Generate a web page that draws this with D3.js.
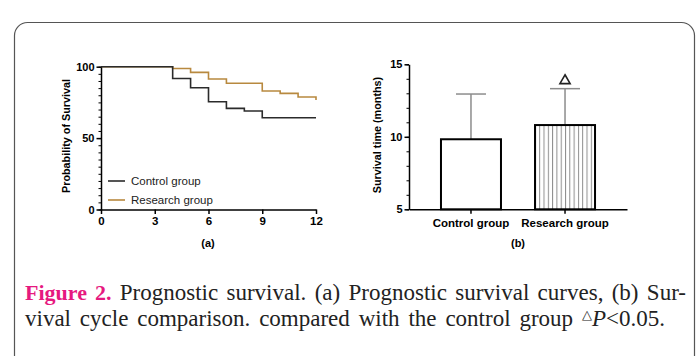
<!DOCTYPE html>
<html>
<head>
<meta charset="utf-8">
<script src="https://cdn.jsdelivr.net/npm/d3@7"></script>
<style>
  body { margin: 0; background: #fff; }
  svg { display: block; }
  .axis path, .axis line { stroke: #000; stroke-width: 1.5px; }
  .axis text { font-family: "Liberation Sans", Arial, sans-serif; font-weight: bold; font-size: 11px; fill: #000; }
  .lbl { font-family: "Liberation Sans", Arial, sans-serif; font-weight: bold; fill: #000; }
  .cap { font-family: "Liberation Serif", "Times New Roman", serif; font-size: 23px; fill: #222; }
</style>
</head>
<body>
<script>
// survival curves (a)
const controlTimes = [0, 4, 5, 6, 7, 8, 9, 12];
const controlSurv = [100, 91.7, 85.3, 75.5, 70.8, 69.0, 64.2, 64.2];
const researchTimes = [0, 4, 5, 6, 7, 9, 10, 11, 12];
const researchSurv = [100, 98.7, 96.0, 91.4, 88.4, 83.0, 81.3, 78.8, 76.6];
const monthTicks = [0, 3, 6, 9, 12];
const survTicks = [0, 50, 100];

// survival time (b)
const groups = ["Control group", "Research group"];
const meanTime = [9.83, 10.81];
const sdTime = [3.12, 2.51];
const timeTicks = [5, 10, 15];

const W = 699, H = 356;
const svg = d3.select("body").append("svg")
  .attr("width", W)
  .attr("height", H);

svg.append("rect").attr("width", W).attr("height", H).attr("fill", "#fff");

// frame
svg.append("rect")
  .attr("x", 14.5).attr("y", 22.5)
  .attr("width", 680).attr("height", 350)
  .attr("rx", 13).attr("ry", 13)
  .attr("fill", "none")
  .attr("stroke", "#555")
  .attr("stroke-width", 1.2);

// ---------- (a) ----------
const x1 = d3.scaleLinear().domain([0, 12]).range([101, 316]);
const y1 = d3.scaleLinear().domain([0, 100]).range([209.5, 66.7]);

const line1 = d3.line()
  .x(d => x1(d[0]))
  .y(d => y1(d[1]))
  .curve(d3.curveStepAfter);

const researchPts = researchTimes.map((t, i) => [t, researchSurv[i]]);
const controlPts = controlTimes.map((t, i) => [t, controlSurv[i]]);

svg.append("path")
  .datum(researchPts)
  .attr("d", line1)
  .attr("fill", "none")
  .attr("stroke", "#b8893f")
  .attr("stroke-width", 1.6);

svg.append("path")
  .datum(controlPts)
  .attr("d", line1)
  .attr("fill", "none")
  .attr("stroke", "#2b2b2b")
  .attr("stroke-width", 1.6);

// minor y ticks
svg.append("g")
  .attr("class", "axis")
  .attr("transform", "translate(101,0)")
  .call(d3.axisLeft(y1).tickValues(d3.range(0, 101, 5)).tickSize(2.5).tickFormat("").tickSizeOuter(0))
  .call(g => g.select(".domain").remove())
  .selectAll("line").style("stroke-width", "1px");

svg.append("g")
  .attr("class", "axis")
  .attr("transform", "translate(101,0)")
  .call(d3.axisLeft(y1).tickValues(survTicks).tickSize(4.5).tickSizeOuter(0).tickPadding(2));

svg.append("g")
  .attr("class", "axis")
  .attr("transform", "translate(0,209.5)")
  .call(d3.axisBottom(x1).tickValues(monthTicks).tickSize(4.5).tickSizeOuter(0).tickPadding(3))
  .selectAll("text").style("font-size", "11.5px");

svg.append("text")
  .attr("class", "lbl")
  .attr("transform", "translate(69.5,136) rotate(-90)")
  .attr("text-anchor", "middle")
  .style("font-size", "10.8px")
  .text("Probability of Survival");

svg.append("text")
  .attr("class", "lbl")
  .attr("x", 208).attr("y", 247)
  .attr("text-anchor", "middle")
  .style("font-size", "11px")
  .text("(a)");

// legend
const legend = [
  {name: "Control group", color: "#2b2b2b", y: 181},
  {name: "Research group", color: "#b8893f", y: 200}
];
legend.forEach(d => {
  svg.append("line")
    .attr("x1", 108).attr("x2", 125)
    .attr("y1", d.y).attr("y2", d.y)
    .attr("stroke", d.color).attr("stroke-width", 1.6);
  svg.append("text")
    .attr("x", 131).attr("y", d.y + 4)
    .style("font-family", "'Liberation Sans', Arial, sans-serif")
    .style("font-size", "11.5px")
    .attr("fill", "#222")
    .text(d.name);
});

// ---------- (b) ----------
const x2 = d3.scaleBand().domain(groups).range([409, 627]).paddingInner(0.362).paddingOuter(0.34);
const y2 = d3.scaleLinear().domain([5, 15]).range([209.3, 64.3]);

const defs = svg.append("defs");
const pat = defs.append("pattern")
  .attr("id", "vhatch")
  .attr("patternUnits", "userSpaceOnUse")
  .attr("width", 4.3).attr("height", 10);
pat.append("rect").attr("width", 4.3).attr("height", 10).attr("fill", "#fff");
pat.append("line")
  .attr("x1", 2.2).attr("x2", 2.2).attr("y1", 0).attr("y2", 10)
  .attr("stroke", "#8a8a8a").attr("stroke-width", 1);

// error bars (upper)
groups.forEach((g, i) => {
  const cx = x2(g) + x2.bandwidth() / 2;
  const top = y2(meanTime[i] + sdTime[i]);
  svg.append("line")
    .attr("x1", cx).attr("x2", cx)
    .attr("y1", y2(meanTime[i])).attr("y2", top)
    .attr("stroke", "#8c8c8c").attr("stroke-width", 1.5);
  svg.append("line")
    .attr("x1", cx - 15).attr("x2", cx + 15)
    .attr("y1", top).attr("y2", top)
    .attr("stroke", "#8c8c8c").attr("stroke-width", 1.5);
});

svg.selectAll(".bar")
  .data(groups)
  .enter()
  .append("rect")
  .attr("class", "bar")
  .attr("x", d => x2(d))
  .attr("width", x2.bandwidth())
  .attr("y", (d, i) => y2(meanTime[i]))
  .attr("height", (d, i) => y2(5) - y2(meanTime[i]))
  .attr("fill", (d, i) => i === 0 ? "#fff" : "url(#vhatch)")
  .attr("stroke", "#000")
  .attr("stroke-width", 2);

// significance mark
const rc = x2(groups[1]) + x2.bandwidth() / 2;
svg.append("path")
  .attr("d", d3.symbol(d3.symbolTriangle, 45)())
  .attr("transform", `translate(${rc},${y2(meanTime[1] + sdTime[1]) - 8})`)
  .attr("fill", "#fff")
  .attr("stroke", "#222")
  .attr("stroke-width", 1.6);

svg.append("g")
  .attr("class", "axis")
  .attr("transform", "translate(409,0)")
  .call(d3.axisLeft(y2).tickValues(d3.range(5, 15.1, 1)).tickSize(2.5).tickFormat("").tickSizeOuter(0))
  .call(g => g.select(".domain").remove())
  .selectAll("line").style("stroke-width", "1px");

svg.append("g")
  .attr("class", "axis")
  .attr("transform", "translate(409,0)")
  .call(d3.axisLeft(y2).tickValues(timeTicks).tickSize(4.5).tickSizeOuter(0).tickPadding(2));

svg.append("g")
  .attr("class", "axis")
  .attr("transform", "translate(0,209.3)")
  .call(d3.axisBottom(x2).tickSize(4.5).tickSizeOuter(0).tickPadding(5))
  .selectAll("text").style("font-size", "11.5px");

svg.append("text")
  .attr("class", "lbl")
  .attr("transform", "translate(380.5,135) rotate(-90)")
  .attr("text-anchor", "middle")
  .style("font-size", "10.8px")
  .text("Survival time (months)");

svg.append("text")
  .attr("class", "lbl")
  .attr("x", 518).attr("y", 247)
  .attr("text-anchor", "middle")
  .style("font-size", "11px")
  .text("(b)");

// ---------- caption ----------
// spread words so the line ends where the printed one does
function justify(t, target) {
  const nat = t.node().getComputedTextLength();
  const spaces = (t.text().match(/ /g) || []).length;
  if (spaces > 0 && target > nat) t.style("word-spacing", ((target - nat) / spaces) + "px");
}

const c1 = svg.append("text").attr("class", "cap")
  .attr("x", 25).attr("y", 300);
c1.append("tspan").attr("fill", "#e6197f").attr("font-weight", "bold").attr("font-size", "22px").text("Figure 2.");
c1.append("tspan").text(" Prognostic survival. (a) Prognostic survival curves, (b) Sur-");
justify(c1, 661);

const c2 = svg.append("text").attr("class", "cap")
  .attr("x", 25).attr("y", 326);
c2.append("tspan").text("vival cycle comparison. compared with the control group ");
c2.append("tspan").attr("font-size", "13px").attr("dy", -7).text("\u25B3");
c2.append("tspan").attr("font-style", "italic").attr("dy", 7).text("P");
c2.append("tspan").text("<0.05.");
justify(c2, 640);
</script>
</body>
</html>
